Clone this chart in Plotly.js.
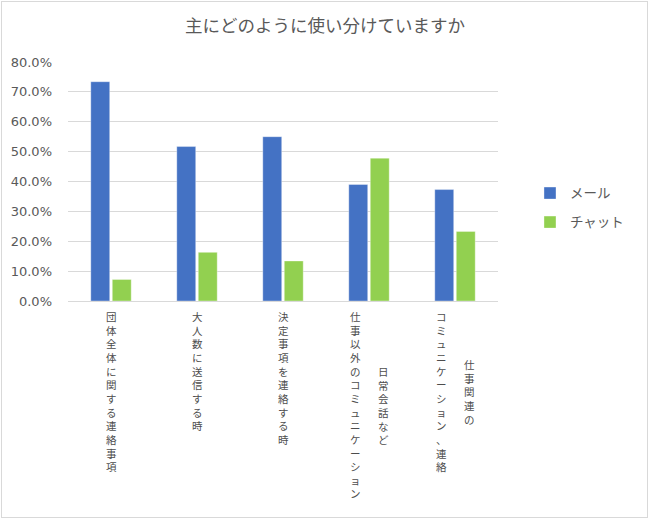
<!DOCTYPE html>
<html>
<head>
<meta charset="utf-8">
<script src="https://cdn.plot.ly/plotly-3.0.1.min.js"></script>
<style>
  html, body { margin: 0; padding: 0; background: #fff; }
  #wrap { position: relative; width: 650px; height: 520px; }
  #chart { position: absolute; left: 0; top: 0; width: 650px; height: 520px; }
  #frame { position: absolute; left: 1px; top: 1px; width: 645px; height: 515px;
           border: 1px solid #d9d9d9; pointer-events: none; }
</style>
</head>
<body>
<div id="wrap"><div id="chart"></div><div id="frame"></div></div>
<script>
// ---- data ----
const categories = [
  "団体全体に関する連絡事項",
  "大人数に送信する時",
  "決定事項を連絡する時",
  "日常会話など仕事以外のコミュニケーション",
  "仕事関連のコミュニケーション、連絡"
];
// vertical label columns, listed left to right as displayed
const labelColumns = [
  ["団体全体に関する連絡事項"],
  ["大人数に送信する時"],
  ["決定事項を連絡する時"],
  ["仕事以外のコミュニケーション", "日常会話など"],
  ["コミュニケーション、連絡", "仕事関連の"]
];
const seriesNames = ["メール", "チャット"];
const mailValues = [73.4, 51.7, 55.0, 39.0, 37.3];
const chatValues = [7.2, 16.3, 13.4, 47.8, 23.3];
const yTickVals = [0, 10, 20, 30, 40, 50, 60, 70, 80];
const yTickText = ["0.0%", "10.0%", "20.0%", "30.0%", "40.0%", "50.0%", "60.0%", "70.0%", "80.0%"];
const titleText = "主にどのように使い分けていますか";

// ---- styling ----
const textColor = "#595959";
const jpFont = "'Noto Sans CJK JP', 'Noto Sans', sans-serif";
const labelSize = 10.5;
const pitch = labelSize * 1.3;
const colGap = 28;

const annotations = [];
labelColumns.forEach((cols, i) => {
  const n = cols.length;
  const maxLen = Math.max(...cols.map(c => Array.from(c).length));
  cols.forEach((col, j) => {
    const chars = Array.from(col);
    annotations.push({
      x: categories[i], xref: "x",
      y: 0, yref: "y",
      xanchor: "center", yanchor: "top",
      xshift: (j - (n - 1) / 2) * colGap,
      yshift: -6 - (maxLen - chars.length) * pitch / 2,
      text: chars.join("<br>"),
      showarrow: false,
      align: "center",
      font: { family: jpFont, size: labelSize, color: "#4d4d4d" }
    });
  });
});

const traces = [
  {
    type: "bar", name: seriesNames[0], x: categories, y: mailValues,
    marker: { color: "#4472C4", line: { color: "rgba(255,255,255,0.5)", width: 0.7 } },
    legendgroup: "a", hoverinfo: "skip"
  },
  {
    type: "bar", name: seriesNames[1], x: categories, y: chatValues,
    marker: { color: "#92D050", line: { color: "rgba(255,255,255,0.5)", width: 0.7 } },
    legendgroup: "b", hoverinfo: "skip"
  }
];

const layout = {
  width: 650, height: 520,
  margin: { l: 68, r: 152, t: 62, b: 219 },
  paper_bgcolor: "#fff", plot_bgcolor: "#fff",
  title: {
    text: titleText, x: 0.5, xref: "container", xanchor: "center",
    y: 1, yref: "container", yanchor: "top", pad: { t: 20 },
    font: { family: jpFont, size: 17.5, color: textColor }
  },
  barmode: "group",
  bargap: 0.5,
  bargroupgap: 0.12,
  xaxis: {
    type: "category", showticklabels: false, ticks: "",
    showgrid: false, showline: true, linecolor: "#d9d9d9", linewidth: 1,
    zeroline: false, fixedrange: true
  },
  yaxis: {
    range: [0, 80], tickvals: yTickVals, ticktext: yTickText,
    showgrid: true, gridcolor: "#d9d9d9", gridwidth: 1,
    zeroline: false, showline: false, ticks: "",
    ticklabelstandoff: 15,
    tickfont: { family: "'DejaVu Sans', sans-serif", size: 13, color: textColor },
    fixedrange: true
  },
  showlegend: true,
  legend: {
    x: 1.0744, xanchor: "left", y: 0.39, yanchor: "middle",
    font: { family: jpFont, size: 13.5, color: textColor },
    tracegroupgap: 8.5, bgcolor: "rgba(0,0,0,0)"
  },
  annotations: annotations
};

Plotly.newPlot("chart", traces, layout, { displayModeBar: false, staticPlot: true });
</script>
</body>
</html>
